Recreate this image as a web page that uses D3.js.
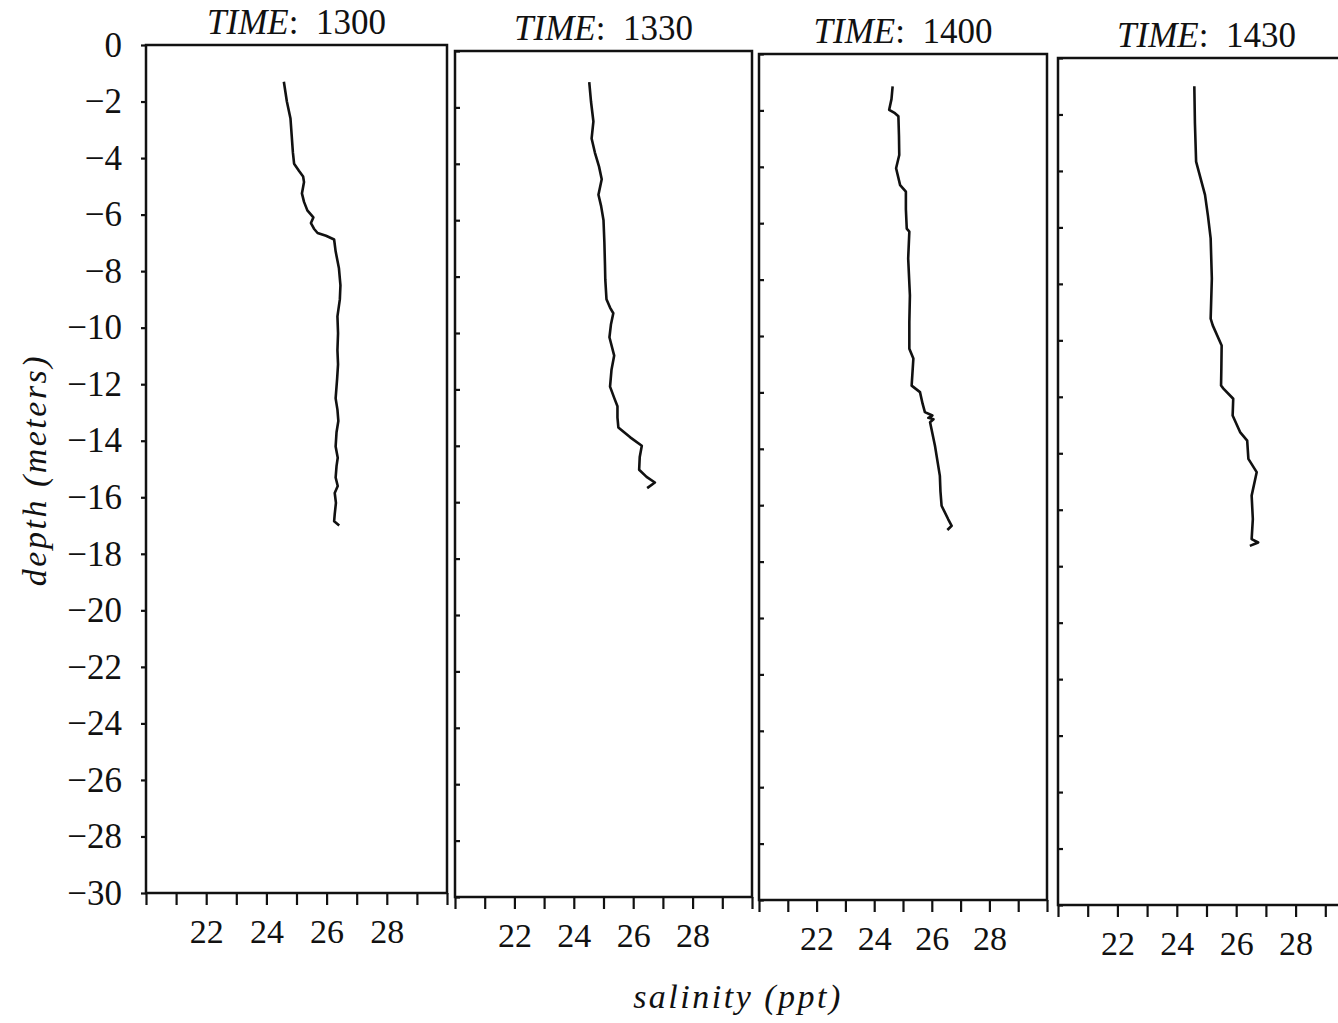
<!DOCTYPE html>
<html>
<head>
<meta charset="utf-8">
<script src="https://cdn.jsdelivr.net/npm/d3@7"></script>
<style>
  body { margin: 0; background: #fff; }
  svg { display: block; font-family: "Liberation Serif", "DejaVu Serif", serif; }
</style>
</head>
<body>
<svg id="chart" width="1338" height="1023"></svg>
<script>
// cast times, one panel each
var times = ["1300", "1330", "1400", "1430"];

// profiles: depth (m) and salinity (ppt)
var depth1300 = [-1.3, -2.0, -2.6, -3.2, -3.8, -4.2, -4.45, -4.65, -4.85, -5.25, -5.55, -5.85, -6.1, -6.3, -6.5, -6.65, -6.75, -6.88,
  -7.3, -7.9, -8.5, -9.0, -9.6, -10.2, -10.8, -11.3, -11.8, -12.5, -12.9, -13.3, -13.7, -14.2, -14.6, -14.9, -15.3, -15.6, -15.85, -16.2, -16.6, -16.85, -17.0];
var sal1300 = [24.58, 24.68, 24.80, 24.84, 24.88, 24.92, 25.08, 25.22, 25.25, 25.18, 25.25, 25.36, 25.56, 25.48, 25.58, 25.70, 25.98, 26.25,
  26.30, 26.41, 26.46, 26.44, 26.36, 26.38, 26.36, 26.38, 26.35, 26.30, 26.36, 26.39, 26.33, 26.30, 26.37, 26.33, 26.30, 26.37, 26.27, 26.31, 26.27, 26.25, 26.42];

var depth1330 = [-1.1, -1.8, -2.5, -3.1, -3.6, -4.1, -4.55, -5.1, -5.5, -6.0, -6.8, -7.6, -8.1, -8.8, -9.1, -9.3, -9.7, -10.15,
  -10.8, -11.3, -11.9, -12.3, -12.6, -13.0, -13.35, -13.7, -14.0, -14.4, -14.85, -15.1, -15.3, -15.5];
var sal1330 = [24.52, 24.58, 24.66, 24.60, 24.71, 24.85, 24.94, 24.83, 24.92, 25.00, 25.03, 25.05, 25.06, 25.10, 25.22, 25.33, 25.25, 25.20,
  25.36, 25.27, 25.22, 25.36, 25.47, 25.47, 25.50, 25.90, 26.29, 26.22, 26.20, 26.45, 26.73, 26.47];

var depth1400 = [-1.15, -1.6, -1.98, -2.1, -2.21, -2.9, -3.58, -4.05, -4.65, -4.88, -5.5, -6.19, -6.3, -7.25, -8.56, -9.5, -10.45, -10.8,
  -11.76, -11.99, -12.4, -12.7, -12.82, -12.9, -12.95, -13.06, -13.89, -14.96, -15.5, -16.02, -16.5, -16.73, -16.88];
var sal1400 = [24.64, 24.60, 24.52, 24.72, 24.84, 24.86, 24.87, 24.76, 24.90, 25.10, 25.10, 25.13, 25.22, 25.18, 25.24, 25.22, 25.22, 25.36,
  25.30, 25.59, 25.68, 25.76, 26.02, 25.88, 26.06, 25.94, 26.11, 26.28, 26.30, 26.34, 26.57, 26.69, 26.54];

var depth1430 = [-1.0, -2.3, -3.67, -4.85, -5.6, -6.39, -7.81, -9.23, -9.47, -10.18, -11.0, -11.6, -11.71, -12.07, -12.66, -13.25, -13.55,
  -14.2, -14.67, -15.5, -16.33, -17.04, -17.16, -17.28];
var sal1430 = [24.59, 24.61, 24.65, 24.95, 25.05, 25.14, 25.18, 25.14, 25.21, 25.51, 25.50, 25.49, 25.57, 25.90, 25.88, 26.13, 26.37,
  26.41, 26.69, 26.52, 26.56, 26.52, 26.74, 26.46];

var depths = [depth1300, depth1330, depth1400, depth1430];
var salinities = [sal1300, sal1330, sal1400, sal1430];

var salDomain = [20, 30];
var salTicks = [20, 21, 22, 23, 24, 25, 26, 27, 28, 29, 30];
var salLabels = [22, 24, 26, 28];
var depthDomain = [-30, 0];
var depthTicks = [0, -2, -4, -6, -8, -10, -12, -14, -16, -18, -20, -22, -24, -26, -28, -30];

// where each panel sits on the (slightly skewed) scanned page
var boxes = [
  { x0: 146, x1: 447, top: 45, bottom: 893 },
  { x0: 455, x1: 752, top: 51, bottom: 897 },
  { x0: 759, x1: 1047, top: 54, bottom: 900 },
  { x0: 1058, x1: 1355, top: 58, bottom: 905 }
];

var ink = "#111";
var svg = d3.select("#chart");

svg.append("rect").attr("width", 1338).attr("height", 1023).attr("fill", "#fff");

boxes.forEach(function(b, i) {
  var x = d3.scaleLinear().domain(salDomain).range([b.x0, b.x1]);
  var y = d3.scaleLinear().domain(depthDomain).range([b.bottom, b.top]);
  var g = svg.append("g").attr("class", "panel");

  // salinity axis along the bottom
  var xAxis = g.append("g")
      .attr("transform", "translate(0," + b.bottom + ")")
      .call(d3.axisBottom(x)
        .tickValues(salTicks)
        .tickSize(12)
        .tickPadding(14)
        .tickFormat(function(d) { return salLabels.indexOf(d) >= 0 ? d : ""; }));
  xAxis.select(".domain").remove();
  xAxis.attr("font-family", null).attr("font-size", 34);
  xAxis.selectAll("line").attr("stroke", ink).attr("stroke-width", 2.2);
  xAxis.selectAll("text").attr("fill", ink);

  // depth axis: labelled only on the first panel, inner ticks on the rest
  var yAxis;
  if (i == 0) {
    yAxis = g.append("g")
        .attr("transform", "translate(" + b.x0 + ",0)")
        .call(d3.axisLeft(y).tickValues(depthTicks).tickSize(5).tickPadding(19));
    yAxis.attr("font-family", null).attr("font-size", 35);
    yAxis.selectAll("text").attr("fill", ink);
  } else {
    yAxis = g.append("g")
        .attr("transform", "translate(" + b.x0 + ",0)")
        .call(d3.axisRight(y).tickValues(depthTicks).tickSize(5).tickFormat(""));
  }
  yAxis.select(".domain").remove();
  yAxis.selectAll("line").attr("stroke", ink).attr("stroke-width", 2.2);

  // frame
  g.append("rect")
      .attr("x", b.x0)
      .attr("y", b.top)
      .attr("width", b.x1 - b.x0)
      .attr("height", b.bottom - b.top)
      .attr("fill", "none")
      .attr("stroke", ink)
      .attr("stroke-width", 2.5);

  // profile
  var dep = depths[i], sal = salinities[i];
  var line = d3.line()
      .x(function(d, k) { return x(sal[k]); })
      .y(function(d, k) { return y(dep[k]); });
  g.append("path")
      .datum(dep)
      .attr("d", line)
      .attr("fill", "none")
      .attr("stroke", ink)
      .attr("stroke-width", 2.6)
      .attr("stroke-linejoin", "round");

  // title
  var t = g.append("text")
      .attr("x", (b.x0 + b.x1) / 2)
      .attr("y", b.top - 11)
      .attr("text-anchor", "middle")
      .attr("font-size", 35)
      .attr("fill", ink);
  t.append("tspan").attr("font-style", "italic").text("TIME");
  t.append("tspan").text(":\u2002" + times[i]);
});

// axis titles
svg.append("text")
    .attr("transform", "translate(46,470) rotate(-90)")
    .attr("text-anchor", "middle")
    .attr("font-size", 34)
    .attr("font-style", "italic")
    .attr("letter-spacing", 2.5)
    .attr("fill", ink)
    .text("depth (meters)");

svg.append("text")
    .attr("x", 738)
    .attr("y", 1008)
    .attr("text-anchor", "middle")
    .attr("font-size", 34)
    .attr("font-style", "italic")
    .attr("letter-spacing", 2.5)
    .attr("fill", ink)
    .text("salinity (ppt)");
</script>
</body>
</html>
